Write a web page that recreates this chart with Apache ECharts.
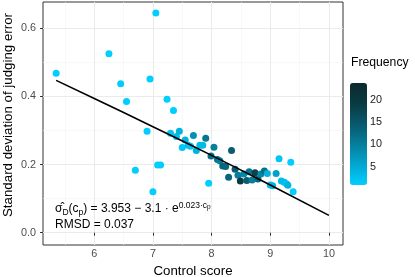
<!DOCTYPE html>
<html><head><meta charset="utf-8">
<script src="https://cdn.jsdelivr.net/npm/echarts@6/dist/echarts.min.js"></script>
<style>html,body{margin:0;padding:0;background:#fff}#c{width:415px;height:277px}</style>
</head><body><div id="c"></div>
<script>
// control score, sd of judging error, frequency
const controlScore = [5.35,6.25,7.05,6.45,6.95,6.55,7.24,7.35,6.90,6.70,7.08,7.13,7.00,7.30,7.40,7.45,7.55,7.50,7.60,7.64,7.69,7.74,7.80,7.85,7.90,7.95,7.99,8.04,8.10,8.14,8.19,8.24,8.29,8.34,8.40,8.45,8.49,8.55,8.60,8.64,8.69,8.74,8.79,8.84,8.90,8.95,9.00,9.04,9.10,9.15,9.19,9.24,9.28,9.30,9.35,9.39];
const sdError = [0.468,0.525,0.645,0.437,0.451,0.385,0.392,0.359,0.298,0.183,0.199,0.199,0.120,0.292,0.282,0.298,0.272,0.250,0.257,0.254,0.285,0.241,0.257,0.257,0.277,0.145,0.225,0.251,0.215,0.211,0.196,0.194,0.163,0.241,0.186,0.169,0.152,0.172,0.153,0.179,0.155,0.176,0.158,0.172,0.181,0.174,0.140,0.138,0.174,0.217,0.152,0.148,0.143,0.139,0.207,0.120];
const frequency = [1,1,1,1,1,1,1,1,1,1,1,1,1,2,3,4,4,2,3,2,8,4,3,3,11,1,12,10,12,10,13,13,13,14,14,10,19,9,14,11,10,18,13,9,12,4,3,4,6,2,3,3,2,4,1,1];
// fitted curve
const fitX = [5.35,6,7,8,9,10];
const fitY = [0.447,0.394,0.311,0.227,0.140,0.051];
const xTicks = [6,7,8,9,10];
const xMinor = [5.5,6.5,7.5,8.5,9.5];
const yTicks = [0,0.2,0.4,0.6];
const yMinor = [0.1,0.3,0.5];
const freqTicks = [5,10,15,20];

const FONT = 'Liberation Sans';
const pts = controlScore.map((x,i)=>[x, sdError[i], frequency[i]]);
const fit = fitX.map((x,i)=>[x, fitY[i]]);
const minorStyle = {color:'#F4F4F4', width:0.6, type:'solid'};
const majorStyle = {color:'#EBEBEB', width:1.1, type:'solid'};
const gridData = [].concat(
  xMinor.map(v=>({xAxis:v, lineStyle:minorStyle})),
  yMinor.map(v=>({yAxis:v, lineStyle:minorStyle})),
  xTicks.map(v=>({xAxis:v, lineStyle:majorStyle})),
  yTicks.map(v=>({yAxis:v, lineStyle:majorStyle}))
);

const chart = echarts.init(document.getElementById('c'), null, {renderer:'canvas'});
chart.setOption({
  animation:false,
  backgroundColor:'#fff',
  textStyle:{fontFamily:FONT},
  grid:[
    {left:43, right:72, top:2, bottom:32, show:true, borderColor:'#333', borderWidth:1, backgroundColor:'#fff',
     containLabel:false, outerBoundsMode:'none'},
    {left:350, top:83, width:17, height:102, show:false, containLabel:false, outerBoundsMode:'none'}
  ],
  xAxis:[
    {type:'value', gridIndex:0, min:5.126, max:10.24,
     name:'Control score', nameLocation:'middle', nameGap:18,
     nameTextStyle:{fontSize:13.3, color:'#000', fontFamily:FONT},
     axisLine:{show:false},
     axisTick:{show:true, length:3, lineStyle:{color:'#333'}, customValues:xTicks},
     axisLabel:{fontSize:10.8, color:'#4D4D4D', margin:4, fontFamily:FONT, customValues:xTicks},
     splitLine:{show:false}},
    {type:'value', gridIndex:1, show:false, min:0, max:1}
  ],
  yAxis:[
    {type:'value', gridIndex:0, min:-0.036, max:0.677,
     axisLine:{show:false},
     axisTick:{show:true, length:3, lineStyle:{color:'#333'}, customValues:yTicks},
     axisLabel:{fontSize:10.8, color:'#4D4D4D', margin:7, fontFamily:FONT, customValues:yTicks,
       formatter:v=>v.toFixed(1)},
     splitLine:{show:false}},
    {type:'value', gridIndex:1, position:'right', min:0.87, max:23.75,
     axisLine:{show:false},
     axisTick:{show:true, inside:true, length:3, lineStyle:{color:'rgba(255,255,255,0.5)'}, customValues:freqTicks},
     axisLabel:{fontSize:10.8, color:'#1A1A1A', margin:3, fontFamily:FONT, customValues:freqTicks},
     splitLine:{show:false}}
  ],
  visualMap:{
    type:'continuous', seriesIndex:1, dimension:2, min:0.87, max:23.75,
    calculable:false, itemWidth:17, itemHeight:102, left:350, top:83, padding:0,
    inRange:{color:['#00CFFF','#03A6D0','#067E9C','#08586C','#0A3A42','#0B2A2D']},
    text:null, hoverLink:false
  },
  graphic:[
    {type:'text', left:351, top:57, style:{text:'Frequency', fontSize:12.2, fill:'#000', fontFamily:FONT}},
    {type:'text', x:8, y:115, rotation:Math.PI/2,
     style:{text:'Standard deviation of judging error', fontSize:13.3, fill:'#000', fontFamily:FONT,
       align:'center', verticalAlign:'middle'}},
    {type:'text', left:55, top:201, z:100,
     style:{
       text:'{m|σ\u0302}{sb|D}{m|(c}{sb|p}{m|) = 3.953 − 3.1 · e}{sp|0.023·c}{sps|p}\n{m|RMSD = 0.037}',
       fill:'#000', fontFamily:FONT,
       rich:{
         m:{fontSize:12, lineHeight:16, fontFamily:FONT, fill:'#000'},
         sb:{fontSize:8.5, lineHeight:16, verticalAlign:'bottom', fontFamily:FONT, fill:'#000'},
         sp:{fontSize:8.5, lineHeight:16, verticalAlign:'top', fontFamily:FONT, fill:'#000'},
         sps:{fontSize:6.5, lineHeight:16, verticalAlign:'top', padding:[3,0,0,0], fontFamily:FONT, fill:'#000'}
       }
     }}
  ],
  series:[
    {type:'scatter', xAxisIndex:0, yAxisIndex:0, data:[], z:1, silent:true,
     markLine:{silent:true, z:0, symbol:['none','none'], label:{show:false}, animation:false,
       lineStyle:{type:'solid'}, emphasis:{disabled:true}, data:gridData}},
    {type:'scatter', xAxisIndex:0, yAxisIndex:0, data:pts, symbolSize:7, z:2,
     itemStyle:{opacity:1}},
    {type:'line', xAxisIndex:0, yAxisIndex:0, data:fit, smooth:true, showSymbol:false, symbol:'none', z:3,
     lineStyle:{color:'#000', width:1.6}}
  ]
});
</script></body></html>
